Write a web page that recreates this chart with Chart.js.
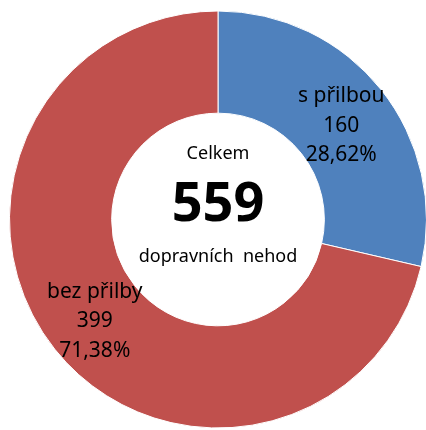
<!DOCTYPE html>
<html>
<head>
<meta charset="utf-8">
<script src="https://cdn.jsdelivr.net/npm/chart.js@4/dist/chart.umd.min.js"></script>
<style>
  html, body { margin: 0; padding: 0; background: #fff; overflow: hidden; }
  #wrap { position: absolute; left: 0; top: 0; width: 426px; height: 430px; overflow: hidden; }
  canvas { position: absolute; left: 0; top: 0; }
</style>
</head>
<body>
<div id="wrap"><canvas id="chart" width="438" height="440"></canvas></div>
<script>
const categories = ['s přilbou', 'bez přilby'];
const counts = [160, 399];
const percentLabels = ['28,62%', '71,38%'];
const sliceColors = ['#4F81BD', '#C0504D'];
const totalLabel = 'Celkem';
const totalUnit = 'dopravních  nehod';

const font = '"Noto Sans", "Open Sans", sans-serif';

const labelPlugin = {
    id: 'sliceLabels',
    afterDraw(chart) {
        const ctx = chart.ctx;
        const arcs = chart.getDatasetMeta(0).data;
        ctx.save();
        ctx.fillStyle = '#000';
        ctx.textAlign = 'center';
        ctx.textBaseline = 'middle';
        ctx.font = '21px ' + font;
        arcs.forEach((arc, i) => {
            const p = arc.tooltipPosition();
            const lines = [categories[i], String(counts[i]), percentLabels[i]];
            lines.forEach((t, j) => ctx.fillText(t, p.x, p.y + 4 + (j - 1) * 29.5));
        });

        // center text
        const cx = arcs[0].x, cy = arcs[0].y;
        const total = counts.reduce((a, b) => a + b, 0);
        ctx.font = '18px ' + font;
        ctx.fillText(totalLabel, cx, cy - 66);
        ctx.font = 'bold 54px ' + font;
        ctx.fillText(String(total), cx, cy - 14);
        ctx.font = '18px ' + font;
        ctx.fillText(totalUnit, cx, cy + 37);
        ctx.restore();
    }
};

new Chart(document.getElementById('chart').getContext('2d'), {
    type: 'doughnut',
    data: {
        labels: categories,
        datasets: [{
            data: counts,
            backgroundColor: sliceColors,
            borderColor: '#ffffff',
            borderWidth: 1,
            hoverOffset: 0
        }]
    },
    options: {
        responsive: false,
        animation: false,
        cutout: '51%',
        layout: { padding: { top: 10, left: 9, right: 11, bottom: 11 } },
        plugins: {
            legend: { display: false },
            tooltip: { enabled: false }
        }
    },
    plugins: [labelPlugin]
});
</script>
</body>
</html>
